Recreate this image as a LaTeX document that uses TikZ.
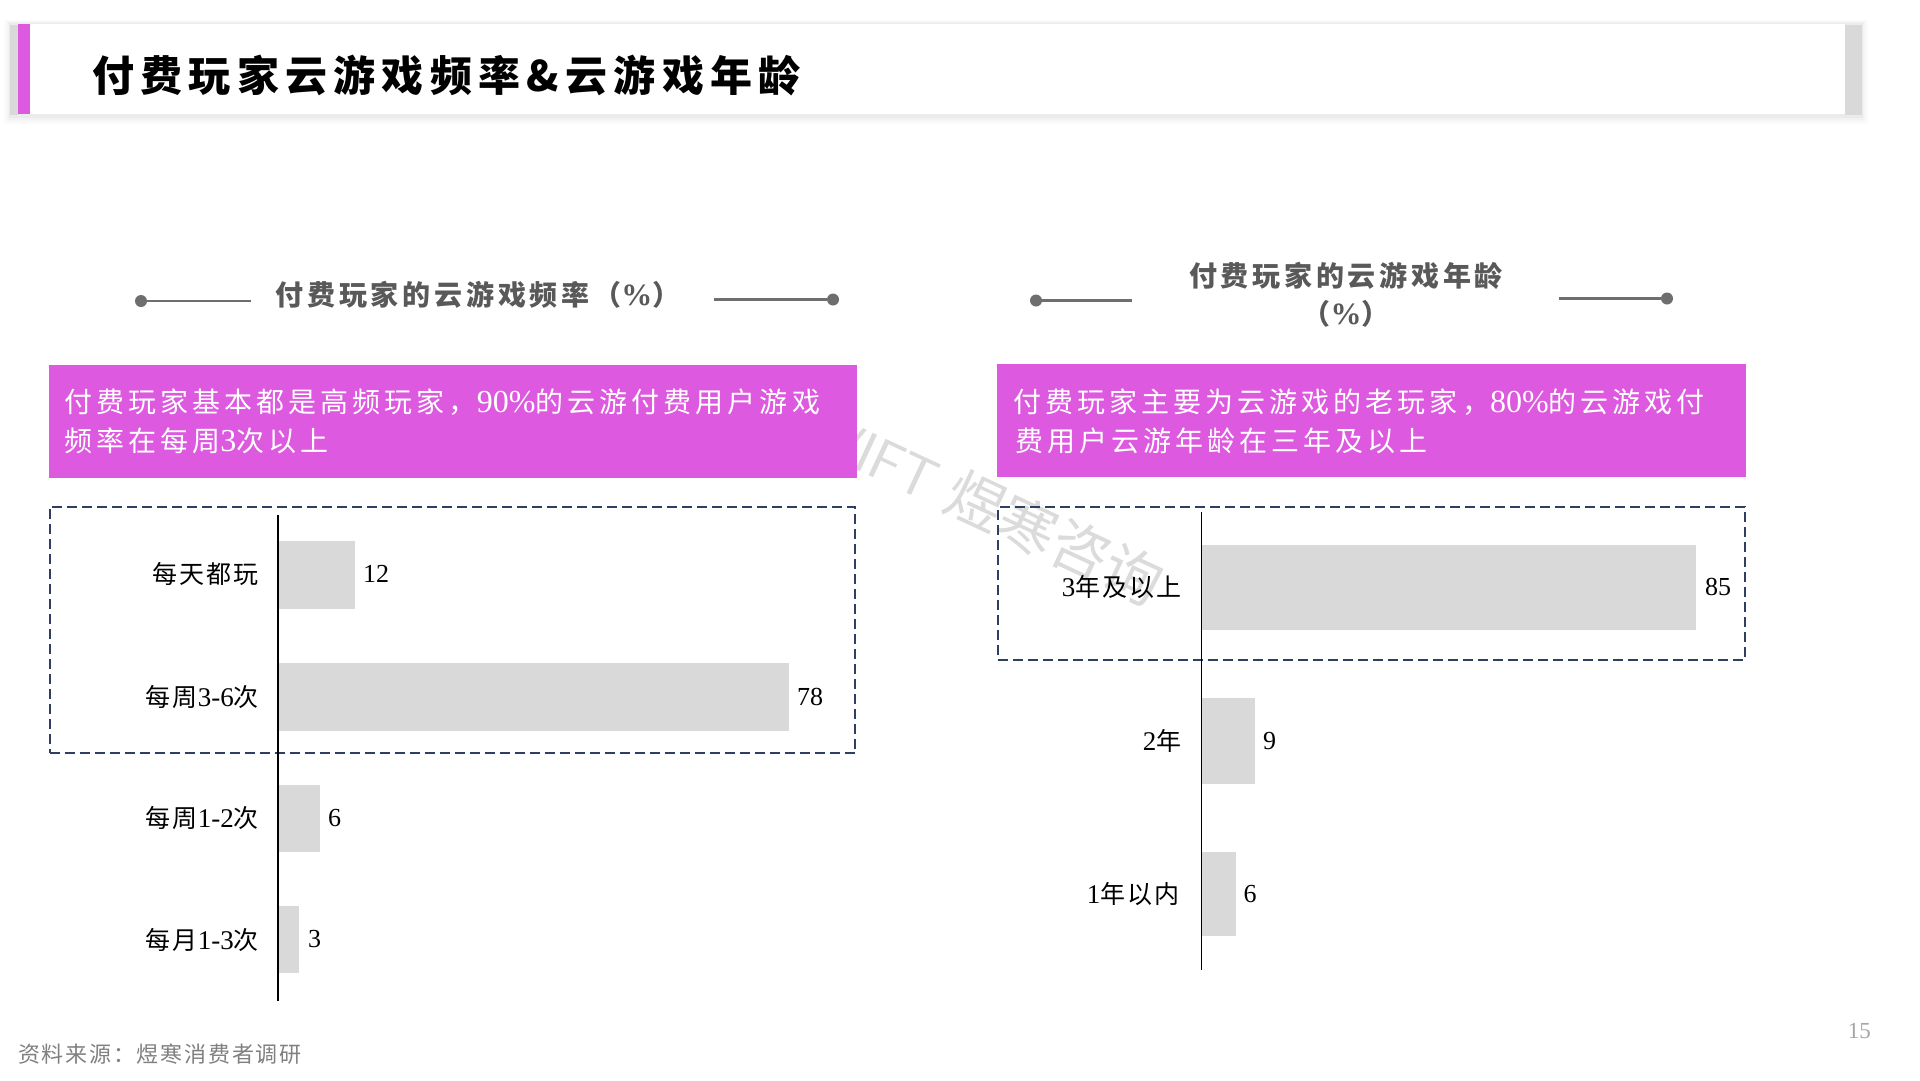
\documentclass[tikz,border=0pt]{standalone}
\usepackage{fontspec}
\setmainfont{Liberation Serif}
\newfontfamily\cjk{Noto Sans CJK SC}
\newfontfamily\cjktitle{Noto Sans CJK SC}[LetterSpace=15]
\newfontfamily\cjkhead{Noto Sans CJK SC}[LetterSpace=13.5]
\newfontfamily\cjkbody{Noto Sans CJK SC}[LetterSpace=14.5]
\newfontfamily\cjklab{Noto Sans CJK SC}[LetterSpace=8]
\newcommand{\lat}[2][27]{{\fontsize{#1}{30}\selectfont\rmfamily #2}}
\definecolor{pinkbar}{HTML}{DD59DF}
\definecolor{navy}{HTML}{2F3E63}
\definecolor{barg}{HTML}{D9D9D9}
\definecolor{headg}{HTML}{595959}
\definecolor{lineg}{HTML}{6E6E6E}
\tikzset{
  x=1pt,y=-1pt,
  pinkbox/.style={fill=pinkbar,draw=none,inner sep=0pt,anchor=north west},
  dashbox/.style={draw=navy,line width=2.1pt,dash pattern=on 10pt off 5pt,inner sep=0pt,anchor=north west},
  barbox/.style={fill=barg,draw=none,inner sep=0pt,anchor=north west},
  axisline/.style={draw=black,line width=1.3pt},
  headline/.style={draw=lineg,line width=2.2pt},
  dotnode/.style={circle,fill=lineg,draw=none,minimum size=12pt,inner sep=0pt},
  headtxt/.style={text=headg,font=\fontsize{28}{38}\selectfont\cjkhead\bfseries,inner sep=0pt,align=center},
  bodytxt/.style={text=white,font=\fontsize{28}{39.5}\selectfont\cjkbody,inner sep=0pt,anchor=west},
  cat/.style={text=black,font=\fontsize{25}{30}\selectfont\cjklab,inner sep=0pt,anchor=east},
  valtxt/.style={text=black,font=\fontsize{26}{30}\selectfont,inner sep=0pt,anchor=west},
}
\begin{document}
\begin{tikzpicture}
\useasboundingbox[fill=white] (0,0) rectangle (1920,1080);
% title bar shadow: soft halo, darker at the sides
\fill[black!1.5] (4,20) rectangle (1868,124);
\fill[black!3] (6,21) rectangle (1866,122);
\fill[black!5] (8,22) rectangle (1864,120);
\fill[black!8] (9,23) rectangle (1863,118);
\fill[black!15] (10,25) rectangle (18,115);
\fill[black!15] (1845,25) rectangle (1862,115);
\node[fill=white,minimum width=1815pt,minimum height=90pt,inner sep=0pt,anchor=north west] (titlebar) at (30,24) {};
\node[pinkbox,minimum width=12pt,minimum height=90pt] (accent) at (18,24) {};
\node[anchor=west,inner sep=0pt,font=\fontsize{42}{50}\selectfont\cjktitle\bfseries] (title) at (92,76) {付费玩家云游戏频率\&云游戏年龄};
% watermark
\node[text=black!14,rotate=-25,anchor=east,font=\fontsize{58}{60}\selectfont\sffamily,inner sep=0pt] (wm) at (1160,587) {SWIFT\hspace{-3pt} {\cjk 煜寒咨询}};
% left header
\node[dotnode] (ld1) at (141,301) {};
\coordinate (ll1) at (251,301);
\draw[headline] (ld1) -- (ll1);
\node[headtxt] (lhead) at (478,295) {付费玩家的云游戏频率（\lat[31]{\%}）};
\coordinate (lr1) at (714,299.5);
\node[dotnode] (ld2) at (833,299.5) {};
\draw[headline] (lr1) -- (ld2);
% right header
\node[dotnode] (rd1) at (1036,300.5) {};
\coordinate (rl1) at (1132,300.5);
\draw[headline] (rd1) -- (rl1);
\node[headtxt] (rhead) at (1346,295) {付费玩家的云游戏年龄\\（\lat[31]{\%}）};
\coordinate (rr1) at (1559,298.5);
\node[dotnode] (rd2) at (1667,298.5) {};
\draw[headline] (rr1) -- (rd2);
% pink boxes
\node[pinkbox,minimum width=808pt,minimum height=113pt] (lbox) at (49,365) {};
\node[bodytxt] (lb1) at (64,402) {付费玩家基本都是高频玩家，\lat[32]{90\%}的云游付费用户游戏};
\node[bodytxt] (lb2) at (64,441) {频率在每周\lat[32]{3}次以上};
\node[pinkbox,minimum width=749pt,minimum height=113pt] (rbox) at (997,364) {};
\node[bodytxt] (rb1) at (1013,402) {付费玩家主要为云游戏的老玩家，\lat[32]{80\%}的云游戏付};
\node[bodytxt] (rb2) at (1015,441) {费用户云游年龄在三年及以上};
% dashed frames
\node[dashbox,minimum width=805.5pt,minimum height=246.5pt] (lframe) at (48.5,505.5) {};
\node[dashbox,minimum width=747pt,minimum height=153pt] (rframe) at (996.5,505.5) {};
% left bars
\node[barbox,minimum width=77pt,minimum height=68pt] (b1) at (278,541) {};
\node[barbox,minimum width=511pt,minimum height=67.5pt] (b2) at (278,663) {};
\node[barbox,minimum width=42pt,minimum height=67.5pt] (b3) at (278,784.5) {};
\node[barbox,minimum width=21pt,minimum height=67pt] (b4) at (278,906) {};
\coordinate (la1) at (278,515);
\coordinate (la2) at (278,1001);
\draw[axisline] (la1) -- (la2);
\node[cat] (c1) at (259,574) {每天都玩};
\node[cat] (c2) at (259,697) {每周\lat{3-6}次};
\node[cat] (c3) at (259,818) {每周\lat{1-2}次};
\node[cat] (c4) at (259,939.5) {每月\lat{1-3}次};
\node[valtxt] (v1) at (363,574) {12};
\node[valtxt] (v2) at (797,697) {78};
\node[valtxt] (v3) at (328,818) {6};
\node[valtxt] (v4) at (308,939.5) {3};
% right bars
\node[barbox,minimum width=495pt,minimum height=85pt] (e1) at (1201,545) {};
\node[barbox,minimum width=53.5pt,minimum height=86pt] (e2) at (1201,698) {};
\node[barbox,minimum width=34.5pt,minimum height=84.5pt] (e3) at (1201,851.5) {};
\coordinate (ra1) at (1201,512);
\coordinate (ra2) at (1201,970);
\draw[axisline,line width=1pt] (ra1) -- (ra2);
\node[cat] (d1) at (1181.5,587) {\lat{3}年及以上};
\node[cat] (d2) at (1181.5,741) {\lat{2}年};
\node[cat] (d3) at (1179.5,894) {\lat{1}年以内};
\node[valtxt] (w1) at (1705,587) {85};
\node[valtxt] (w2) at (1263,741) {9};
\node[valtxt] (w3) at (1243.5,894) {6};
% footer
\node[anchor=west,inner sep=0pt,text=black!50,font=\fontsize{22}{26}\selectfont\cjklab] (src) at (18,1054) {资料来源：煜寒消费者调研};
\node[anchor=east,inner sep=0pt,text=black!35,font=\fontsize{23}{26}\selectfont] (pg) at (1871,1031) {15};
\end{tikzpicture}
\end{document}
